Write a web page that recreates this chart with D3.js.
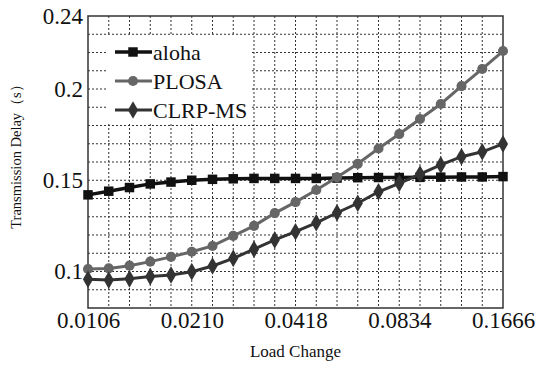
<!DOCTYPE html>
<html>
<head>
<meta charset="utf-8">
<script src="https://cdn.jsdelivr.net/npm/d3@7/dist/d3.min.js"></script>
<style>
  body { margin: 0; background: #fff; }
  svg { display: block; }
  svg text { font-family: "Liberation Serif", serif; }
</style>
</head>
<body>
<div id="chart"></div>
<script>
// x positions are equally spaced load steps; only every fifth one is labelled
const loadSteps = d3.range(21);
const xTickSteps = [0, 5, 10, 15, 20];
const xTickLabels = ["0.0106", "0.0210", "0.0418", "0.0834", "0.1666"];
const yTickValues = [0.1, 0.15, 0.2, 0.24];

const aloha = [0.142, 0.144, 0.146, 0.148, 0.149, 0.150, 0.1505, 0.1508, 0.151, 0.151, 0.151,
  0.151, 0.1512, 0.1514, 0.1515, 0.1515, 0.1516, 0.1517, 0.1518, 0.1518, 0.152];
const plosa = [0.1014, 0.1017, 0.1032, 0.1054, 0.108, 0.1108, 0.114, 0.1195, 0.125, 0.132, 0.138,
  0.1447, 0.1516, 0.159, 0.1674, 0.1753, 0.1836, 0.1918, 0.2016, 0.211, 0.2208];
const clrpms = [0.0957, 0.0953, 0.096, 0.0972, 0.0981, 0.0999, 0.103, 0.1072, 0.1122, 0.1173, 0.1218,
  0.1267, 0.1322, 0.1374, 0.1437, 0.1483, 0.1534, 0.1584, 0.1629, 0.1656, 0.1699];

const seriesNames = ["aloha", "PLOSA", "CLRP-MS"];

const W = 537, H = 367;
const margin = {left: 88, right: 34, top: 16, bottom: 59};
const width = W - margin.left - margin.right;
const height = H - margin.top - margin.bottom;

const svg = d3.select("#chart").append("svg")
  .attr("width", W).attr("height", H);
const g = svg.append("g")
  .attr("transform", "translate(" + margin.left + "," + margin.top + ")");

const x = d3.scaleLinear().domain([0, 20]).range([0, width]);
const y = d3.scaleLinear().domain([0.08, 0.24]).range([height, 0]);

// dashed grid
g.append("g").selectAll("line")
  .data(loadSteps.slice(1, -1))
  .enter().append("line")
  .attr("x1", d => x(d)).attr("x2", d => x(d))
  .attr("y1", 0).attr("y2", height)
  .attr("stroke", "#333").attr("stroke-width", 1)
  .attr("stroke-dasharray", "2,2");

g.append("g").selectAll("line")
  .data(d3.range(9, 24).map(v => v / 100))
  .enter().append("line")
  .attr("x1", 0).attr("x2", width)
  .attr("y1", d => y(d)).attr("y2", d => y(d))
  .attr("stroke", "#333").attr("stroke-width", 1)
  .attr("stroke-dasharray", "2,2");

// axes
const xAxis = g.append("g")
  .attr("transform", "translate(0," + height + ")")
  .call(d3.axisBottom(x).tickValues(xTickSteps)
    .tickFormat((d, i) => xTickLabels[i]).tickSize(0).tickPadding(4));
xAxis.select(".domain").remove();
xAxis.attr("font-family", null).attr("font-size", 23);
xAxis.selectAll("text").attr("fill", "#111");

const yAxis = g.append("g")
  .call(d3.axisLeft(y).tickValues(yTickValues)
    .tickFormat(d => d === 0.24 ? "0.24" : String(d)).tickSize(0).tickPadding(5));
yAxis.select(".domain").remove();
yAxis.attr("font-family", null).attr("font-size", 23);
yAxis.selectAll("text").attr("fill", "#111");

// frame
g.append("rect")
  .attr("width", width).attr("height", height)
  .attr("fill", "none").attr("stroke", "#333").attr("stroke-width", 1.5);

// lines and markers
const line = d3.line().x((d, i) => x(i)).y(d => y(d));

const styles = [
  {data: aloha, color: "#111", width: 3.5, marker: d3.symbolSquare, size: 90},
  {data: plosa, color: "#666", width: 3, marker: d3.symbolCircle, size: 80},
  {data: clrpms, color: "#333", width: 3, marker: d3.symbolDiamond, size: 90}
];

styles.forEach(s => {
  g.append("path")
    .datum(s.data)
    .attr("d", line)
    .attr("fill", "none")
    .attr("stroke", s.color)
    .attr("stroke-width", s.width);
  g.append("g").selectAll("path")
    .data(s.data)
    .enter().append("path")
    .attr("transform", (d, i) => "translate(" + x(i) + "," + y(d) + ")")
    .attr("d", d3.symbol().type(s.marker).size(s.size))
    .attr("fill", s.color);
});

// legend
const legend = g.append("g").attr("transform", "translate(20,20)");
legend.append("rect")
  .attr("width", 142).attr("height", 87)
  .attr("fill", "#fff");
styles.forEach((s, i) => {
  const ly = 16 + i * 29;
  legend.append("line")
    .attr("x1", 7).attr("x2", 44)
    .attr("y1", ly).attr("y2", ly)
    .attr("stroke", s.color).attr("stroke-width", s.width);
  legend.append("path")
    .attr("transform", "translate(25," + ly + ")")
    .attr("d", d3.symbol().type(s.marker).size(s.size))
    .attr("fill", s.color);
  legend.append("text")
    .attr("x", 45).attr("y", ly)
    .attr("dy", "0.35em")
    .attr("font-size", 22)
    .attr("fill", "#111")
    .text(seriesNames[i]);
});

// axis titles
svg.append("text")
  .attr("x", margin.left + width / 2)
  .attr("y", 357)
  .attr("text-anchor", "middle")
  .attr("font-size", 17)
  .attr("fill", "#111")
  .text("Load Change");

svg.append("text")
  .attr("transform", "translate(21,153) rotate(-90)")
  .attr("text-anchor", "middle")
  .attr("font-size", 14.5)
  .attr("fill", "#111")
  .text("Transmission Delay（s）");
</script>
</body>
</html>
